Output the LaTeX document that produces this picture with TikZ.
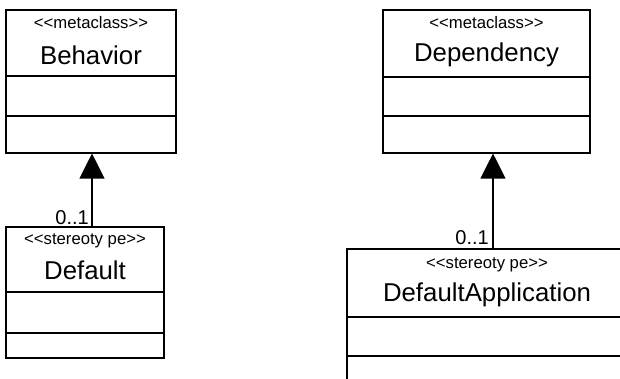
\documentclass[tikz,border=0pt]{standalone}
\usepackage{fontspec}
\setmainfont{Liberation Sans}
\usetikzlibrary{arrows.meta}
\begin{document}
\begin{tikzpicture}[x=1pt,y=-1pt,
  umlbox/.style={draw,line width=1.1pt,inner sep=0pt,fill=white},
  stereo/.style={inner sep=0pt,font=\fontsize{16.7}{20}\selectfont},
  cname/.style={inner sep=0pt,font=\fontsize{25.8}{30}\selectfont},
  mult/.style={inner sep=0pt,font=\fontsize{20}{24}\selectfont},
  divider/.style={line width=1.1pt},
  genarrow/.style={line width=1.1pt,-{Triangle[width=25pt,length=25pt]}}]
\useasboundingbox (0,0) rectangle (620,379);
\clip (0,0) rectangle (620,379);
% Behavior
\node[umlbox,minimum width=170pt,minimum height=143pt] (beh) at (91,81.5) {};
\node[stereo] (behs) at (91,23) {<{}<metaclass>{}>};
\node[cname] (behn) at (91,55) {Behavior};
\draw[divider] (beh.west |- 0,76) -- (beh.east |- 0,76);
\draw[divider] (beh.west |- 0,116) -- (beh.east |- 0,116);
% Dependency
\node[umlbox,minimum width=207pt,minimum height=143pt] (dep) at (486.5,81.5) {};
\node[stereo] (deps) at (486.5,23) {<{}<metaclass>{}>};
\node[cname] (depn) at (486.5,55) {Dependency};
\draw[divider] (dep.west |- 0,77) -- (dep.east |- 0,77);
\draw[divider] (dep.west |- 0,116) -- (dep.east |- 0,116);
% Default
\node[umlbox,minimum width=158pt,minimum height=131pt] (def) at (85,292.5) {};
\node[stereo] (defs) at (85,241) {<{}<stereoty pe>{}>};
\node[cname] (defn) at (85,270) {Default};
\draw[divider] (def.west |- 0,292) -- (def.east |- 0,292);
\draw[divider] (def.west |- 0,333) -- (def.east |- 0,333);
% DefaultApplication
\node[umlbox,minimum width=280pt,minimum height=180pt] (app) at (487,339) {};
\node[stereo] (apps) at (487,265) {<{}<stereoty pe>{}>};
\node[cname] (appn) at (487,295) {DefaultApplication};
\draw[divider] (app.west |- 0,317) -- (app.east |- 0,317);
\draw[divider] (app.west |- 0,356) -- (app.east |- 0,356);
% generalizations
\coordinate (ax1) at (92,0);
\coordinate (ax2) at (493,0);
\draw[genarrow] (ax1 |- def.north) -- (ax1 |- beh.south);
\draw[genarrow] (ax2 |- app.north) -- (ax2 |- dep.south);
\node[mult,anchor=east] (m1) at (89,218) {0..1};
\node[mult,anchor=east] (m2) at (489,238) {0..1};
\end{tikzpicture}
\end{document}
